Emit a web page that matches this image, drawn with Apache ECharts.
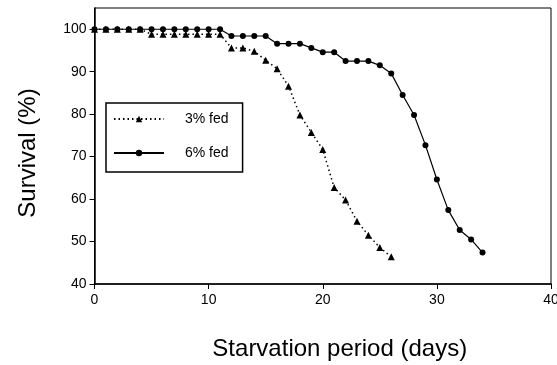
<!DOCTYPE html>
<html>
<head>
<meta charset="utf-8">
<script src="https://cdn.jsdelivr.net/npm/echarts@6/dist/echarts.min.js"></script>
<style>html,body{margin:0;padding:0;background:#fff;}#c{width:557px;height:365px;}</style>
</head>
<body>
<div id="c"></div>
<script>
const days3 = [0,1,2,3,4,5,6,7,8,9,10,11,12,13,14,15,16,17,18,19,20,21,22,23,24,25,26];
const fed3 = [100,100,100,100,100,98.8,98.8,98.8,98.8,98.8,98.8,98.8,95.6,95.6,94.8,92.7,90.7,86.6,79.8,75.7,71.7,62.7,59.8,54.8,51.5,48.6,46.4];
const days6 = [0,1,2,3,4,5,6,7,8,9,10,11,12,13,14,15,16,17,18,19,20,21,22,23,24,25,26,27,28,29,30,31,32,33,34];
const fed6 = [100,100,100,100,100,100,100,100,100,100,100,100,98.4,98.4,98.4,98.4,96.6,96.6,96.6,95.6,94.6,94.6,92.5,92.5,92.5,91.5,89.6,84.5,79.8,72.7,64.6,57.4,52.7,50.5,47.4];
const seriesNames = ['3% fed','6% fed'];
const xTitle = 'Starvation period (days)';
const yTitle = 'Survival (%)';

const font = '"Liberation Sans", Arial, Helvetica, sans-serif';
const chart = echarts.init(document.getElementById('c'), null, {renderer:'canvas'});
chart.setOption({
  animation: false,
  backgroundColor: '#fff',
  textStyle: {fontFamily: font, color: '#000'},
  grid: {left: 94.5, right: 6, top: 8, bottom: 81, show: true, borderColor: '#000', borderWidth: 1, backgroundColor: 'transparent', outerBoundsMode: 'none', containLabel: false},
  legend: {
    orient: 'vertical', left: 106, top: 103,
    padding: [9, 14, 12, 7],
    borderColor: '#000', borderWidth: 1.5,
    itemWidth: 50, itemHeight: 8, itemGap: 20,
    textStyle: {fontFamily: font, fontSize: 14, color: '#000', padding: [0,0,0,16]},
    data: seriesNames
  },
  xAxis: {
    type: 'value', min: 0, max: 40, interval: 10,
    name: xTitle, nameLocation: 'middle', nameGap: 53,
    nameTextStyle: {fontFamily: font, fontSize: 24, color: '#000', padding: [0,0,0,34]},
    axisLine: {show: true, lineStyle: {color: '#000', width: 1.5}},
    axisTick: {show: true, inside: false, length: 5, lineStyle: {color: '#000'}},
    axisLabel: {fontFamily: font, fontSize: 14, color: '#000', margin: 9},
    splitLine: {show: false}
  },
  yAxis: {
    type: 'value', min: 40, max: 105, interval: 10,
    name: yTitle, nameLocation: 'middle', nameGap: 54, nameRotate: 90,
    nameTextStyle: {fontFamily: font, fontSize: 24, color: '#000', padding: [0,14,0,0]},
    axisLine: {show: true, lineStyle: {color: '#000', width: 1.5}},
    axisTick: {show: true, inside: false, length: 5, lineStyle: {color: '#000'}},
    axisLabel: {fontFamily: font, fontSize: 14, color: '#000', margin: 8, showMaxLabel: false,
      formatter: v => (v > 100 ? '' : String(v))},
    splitLine: {show: false}
  },
  series: [
    {
      name: seriesNames[0], type: 'line',
      data: days3.map((d,i) => [d, fed3[i]]),
      symbol: 'triangle', symbolSize: 7,
      lineStyle: {color: '#000', width: 1.5, type: [1.5, 3]},
      itemStyle: {color: '#000'},
      z: 3
    },
    {
      name: seriesNames[1], type: 'line',
      data: days6.map((d,i) => [d, fed6[i]]),
      symbol: 'circle', symbolSize: 6,
      lineStyle: {color: '#000', width: 1.2, type: 'solid'},
      itemStyle: {color: '#000'},
      z: 2
    }
  ]
});
</script>
</body>
</html>
